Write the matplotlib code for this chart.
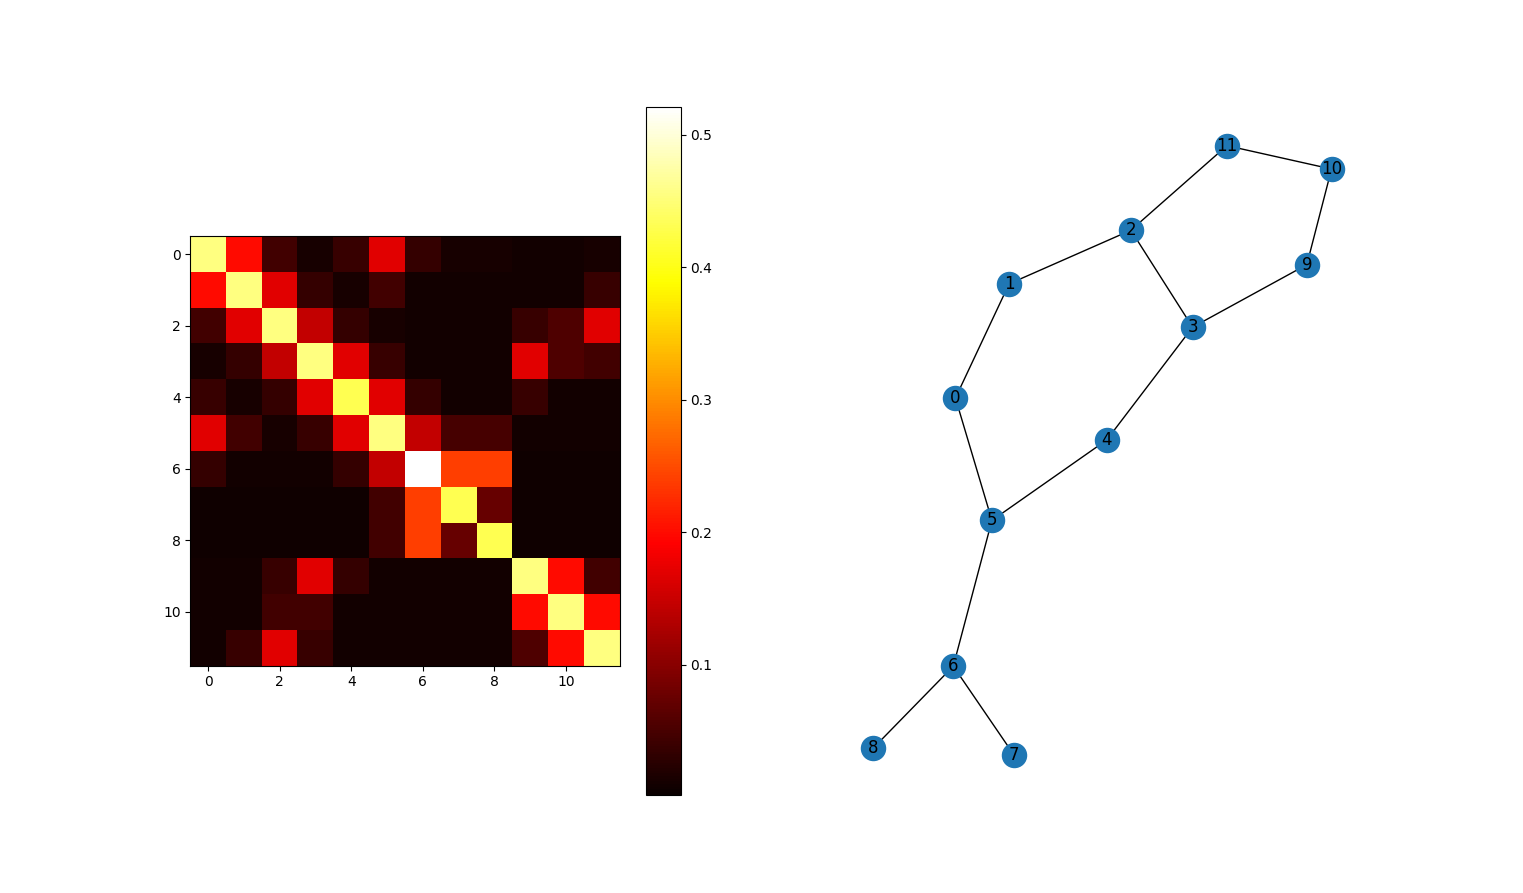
import numpy as np
import matplotlib
matplotlib.use("Agg")
import matplotlib.pyplot as plt

# similarity matrix
sim = np.array([
    [0.455, 0.200, 0.045, 0.014, 0.038, 0.170, 0.035, 0.013, 0.013, 0.010, 0.010, 0.013],
    [0.200, 0.455, 0.170, 0.035, 0.014, 0.045, 0.010, 0.009, 0.009, 0.010, 0.010, 0.038],
    [0.045, 0.170, 0.455, 0.145, 0.035, 0.014, 0.009, 0.009, 0.009, 0.038, 0.055, 0.170],
    [0.014, 0.035, 0.145, 0.455, 0.170, 0.038, 0.009, 0.009, 0.009, 0.170, 0.055, 0.045],
    [0.038, 0.014, 0.035, 0.170, 0.430, 0.170, 0.035, 0.009, 0.009, 0.038, 0.009, 0.009],
    [0.170, 0.045, 0.014, 0.038, 0.170, 0.455, 0.145, 0.050, 0.050, 0.009, 0.009, 0.009],
    [0.035, 0.009, 0.009, 0.009, 0.035, 0.145, 0.521, 0.240, 0.240, 0.008, 0.008, 0.008],
    [0.008, 0.008, 0.008, 0.008, 0.008, 0.045, 0.240, 0.430, 0.073, 0.008, 0.008, 0.008],
    [0.008, 0.008, 0.008, 0.008, 0.008, 0.045, 0.240, 0.073, 0.430, 0.008, 0.008, 0.008],
    [0.009, 0.010, 0.038, 0.170, 0.035, 0.010, 0.009, 0.009, 0.009, 0.455, 0.200, 0.045],
    [0.009, 0.010, 0.045, 0.045, 0.009, 0.009, 0.009, 0.009, 0.009, 0.200, 0.455, 0.200],
    [0.009, 0.038, 0.170, 0.038, 0.009, 0.009, 0.009, 0.009, 0.009, 0.055, 0.200, 0.455],
])
vmin = 0.002

# graph layout (normalised to the right panel)
node_ids = list(range(12))
node_x = [0.226, 0.326, 0.553, 0.668, 0.508, 0.294, 0.222, 0.335, 0.073, 0.881, 0.927, 0.732]
node_y = [0.577, 0.743, 0.821, 0.680, 0.516, 0.399, 0.187, 0.058, 0.068, 0.771, 0.910, 0.944]
edges = [(0, 1), (1, 2), (2, 11), (11, 10), (10, 9), (9, 3), (2, 3),
         (3, 4), (4, 5), (0, 5), (5, 6), (6, 8), (6, 7)]

fig, (ax1, ax2) = plt.subplots(1, 2, figsize=(15.23, 8.93), dpi=100)

im = ax1.imshow(sim, cmap="hot", vmin=vmin, vmax=sim.max())
plt.colorbar(im, ax=ax1)

for a, b in edges:
    ax2.plot([node_x[a], node_x[b]], [node_y[a], node_y[b]], color="k", lw=1, zorder=1)
ax2.scatter(node_x, node_y, s=300, c="#1f77b4", zorder=2)
for n in node_ids:
    ax2.text(node_x[n], node_y[n], str(n), fontsize=12, ha="center", va="center", zorder=3)
ax2.set_xlim(0, 1)
ax2.set_ylim(0, 1)
ax2.axis("off")

plt.savefig("out.png")
